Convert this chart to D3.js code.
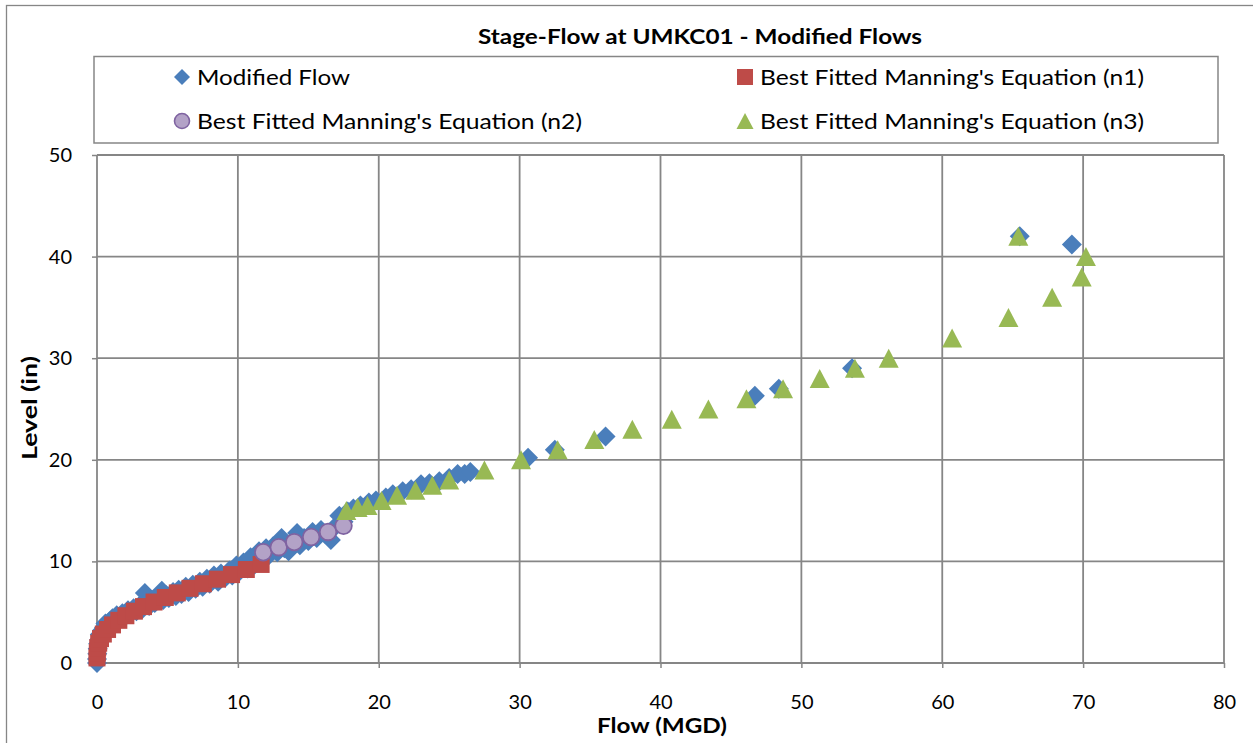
<!DOCTYPE html>
<html>
<head>
<meta charset="utf-8">
<script src="https://cdn.jsdelivr.net/npm/d3@7"></script>
<style>
  html, body { margin: 0; padding: 0; background: #fff; }
  svg { display: block; }
  text { font-family: Lato, "Open Sans", sans-serif; fill: #000; }
</style>
</head>
<body>
<svg id="chart" width="1253" height="743"></svg>
<script>
// ---- data ----
const modFlow = [0.0,0.0,0.02,0.05,0.08,0.15,0.2,0.35,0.5,0.6,0.8,0.9,1.1,1.2,1.4,1.6,1.8,2.0,2.2,2.4,2.6,2.8,3.0,3.2,3.4,3.5,3.7,3.9,4.1,4.3,4.6,4.7,4.9,5.1,5.4,5.6,5.8,6.0,6.3,6.5,6.8,7.0,7.3,7.5,7.8,8.0,8.3,8.6,8.8,9.1,9.4,9.6,9.9,10.1,10.4,10.7,10.9,11.2,11.5,11.7,12.0,12.2,12.5,12.8,13.1,13.3,13.6,13.9,14.2,14.4,14.7,15.0,15.3,15.6,15.9,16.2,16.6,16.9,17.2,17.5,17.8,18.2,18.7,19.3,19.8,20.5,21.0,21.7,22.3,23.0,23.6,24.3,25.0,25.6,26.1,26.5,30.6,32.5,36.1,46.7,48.4,53.6,65.5,69.2];
const modLevel = [0.0,0.4,0.9,1.4,1.9,2.3,2.8,3.2,3.5,3.9,3.6,4.1,4.4,3.9,4.7,4.4,4.9,4.6,5.2,4.9,5.4,5.1,5.6,5.3,6.9,6.0,5.6,6.2,5.9,6.5,7.1,6.2,6.7,6.4,7.0,6.6,7.2,6.8,7.5,7.0,7.7,7.3,8.0,7.5,8.3,7.8,8.6,8.0,8.8,8.4,9.1,8.6,9.6,9.0,9.9,9.3,10.4,9.7,11.0,10.1,11.3,10.6,11.5,10.9,12.3,11.3,11.0,12.0,12.8,11.6,12.3,12.0,12.9,12.3,13.1,12.7,12.1,13.4,14.5,13.9,14.9,15.2,15.5,15.8,16.0,16.3,16.6,16.9,17.1,17.6,17.7,17.9,18.2,18.6,18.6,18.8,20.2,21.0,22.3,26.3,27.0,29.0,42.0,41.2];

const n1Flow  = [0.0,0.02,0.05,0.12,0.25,0.45,0.75,1.1,1.55,2.05,2.65,3.3,4.05,4.85,5.7,6.6,7.55,8.55,9.55,10.6,11.65];
const n1Level = [0.5,1.0,1.5,1.95,2.4,2.85,3.3,3.75,4.2,4.65,5.1,5.55,6.0,6.45,6.9,7.35,7.8,8.25,8.7,9.2,9.7];

const n2Flow  = [11.8,12.9,14.0,15.2,16.4,17.5];
const n2Level = [10.9,11.4,11.9,12.4,12.9,13.5];

const n3Flow  = [17.7,18.5,19.2,20.2,21.3,22.6,23.8,25.0,27.5,30.1,32.7,35.3,38.0,40.8,43.4,46.1,48.7,51.3,53.8,56.2,60.7,64.7,67.8,69.9,70.2,65.4];
const n3Level = [15.0,15.3,15.5,16.0,16.5,17.0,17.5,18.0,19.0,20.0,21.0,22.0,23.0,24.0,25.0,26.0,27.0,28.0,29.0,30.0,32.0,34.0,36.0,38.0,40.0,42.0];

const xTicks = [0,10,20,30,40,50,60,70,80];
const yTicks = [0,10,20,30,40,50];

const seriesNames = ["Modified Flow","Best Fitted Manning's Equation (n1)","Best Fitted Manning's Equation (n2)","Best Fitted Manning's Equation (n3)"];
const titleText = "Stage-Flow at UMKC01 - Modified Flows";
const xTitle = "Flow (MGD)";
const yTitle = "Level (in)";

// ---- layout ----
const svg = d3.select("#chart");
const L = 97, R = 1224, T = 155, B = 663;
const x = d3.scaleLinear().domain([0,80]).range([L,R]);
const y = d3.scaleLinear().domain([0,50]).range([B,T]);

const C = { blue:"#4A7EBB", red:"#BE4B48", purpleFill:"#B3A2C7", purpleStroke:"#7F63A1", green:"#98B954", grid:"#868686" };

// outer chart border
svg.append("rect").attr("x",6.5).attr("y",5.5).attr("width",1400).attr("height",800)
  .attr("fill","none").attr("stroke","#868686").attr("stroke-width",1.3);

// title
svg.append("text").attr("x",700).attr("y",44).attr("text-anchor","middle")
  .attr("font-size",20).attr("font-weight","bold")
  .attr("textLength",444).attr("lengthAdjust","spacingAndGlyphs").text(titleText);

// gridlines + axes
const gx = svg.append("g").attr("transform",`translate(0,${B})`)
  .call(d3.axisBottom(x).tickValues(xTicks).tickSize(5).tickPadding(27).tickFormat(d3.format("d")));
const gy = svg.append("g").attr("transform",`translate(${L},0)`)
  .call(d3.axisLeft(y).tickValues(yTicks).tickSize(5).tickPadding(20).tickFormat(d3.format("d")));
[gx,gy].forEach(g=>{
  g.select(".domain").remove();
  g.selectAll(".tick line").attr("stroke",C.grid).attr("stroke-width",1.5);
  g.selectAll(".tick text").attr("font-size",20).attr("font-family","Lato").attr("fill","#000");
});
svg.append("g").selectAll("line").data(xTicks).join("line")
  .attr("x1",d=>x(d)).attr("x2",d=>x(d)).attr("y1",T).attr("y2",B)
  .attr("stroke",C.grid).attr("stroke-width",1.8);
svg.append("g").selectAll("line").data(yTicks).join("line")
  .attr("x1",L).attr("x2",R).attr("y1",d=>y(d)).attr("y2",d=>y(d))
  .attr("stroke",C.grid).attr("stroke-width",1.8);

// axis titles
svg.append("text").attr("x",662).attr("y",733).attr("text-anchor","middle")
  .attr("font-size",21).attr("font-weight","bold")
  .attr("textLength",130).attr("lengthAdjust","spacingAndGlyphs").text(xTitle);
svg.append("text").attr("transform","translate(37,408) rotate(-90)").attr("text-anchor","middle")
  .attr("font-size",21).attr("font-weight","bold")
  .attr("textLength",104).attr("lengthAdjust","spacingAndGlyphs").text(yTitle);

// marker shapes
function diamond(s){ const h=s/2; return `M0,${-h}L${h},0L0,${h}L${-h},0Z`; }
function square(s){ const h=s/2; return `M${-h},${-h}H${h}V${h}H${-h}Z`; }
function triangle(w,hgt){ const a=w/2, b=hgt/2; return `M0,${-b}L${a},${b}L${-a},${b}Z`; }

const plot = svg.append("g");
const zip = (a,b)=>a.map((v,i)=>[v,b[i]]);

plot.append("g").selectAll("path").data(zip(modFlow,modLevel)).join("path")
  .attr("transform",d=>`translate(${x(d[0])},${y(d[1])})`).attr("d",diamond(20)).attr("fill",C.blue);
plot.append("g").selectAll("path").data(zip(n1Flow,n1Level)).join("path")
  .attr("transform",d=>`translate(${x(d[0])},${y(d[1])})`).attr("d",square(17)).attr("fill",C.red);
plot.append("g").selectAll("circle").data(zip(n2Flow,n2Level)).join("circle")
  .attr("cx",d=>x(d[0])).attr("cy",d=>y(d[1])).attr("r",8.3)
  .attr("fill",C.purpleFill).attr("stroke",C.purpleStroke).attr("stroke-width",1.8);
plot.append("g").selectAll("path").data(zip(n3Flow,n3Level)).join("path")
  .attr("transform",d=>`translate(${x(d[0])},${y(d[1])})`).attr("d",triangle(20,19)).attr("fill",C.green);

// legend
const lg = svg.append("g");
lg.append("rect").attr("x",94).attr("y",56.5).attr("width",1124).attr("height",86.5)
  .attr("fill","#fff").attr("stroke","#868686").attr("stroke-width",1.5);
const legendItems = [
  {name:seriesNames[0], mx:182, ty:77, kind:"d", w:153},
  {name:seriesNames[1], mx:745, ty:77, kind:"s", w:384},
  {name:seriesNames[2], mx:182, ty:121, kind:"c", w:385},
  {name:seriesNames[3], mx:745, ty:121, kind:"t", w:384}
];
legendItems.forEach(it=>{
  const g = lg.append("g").attr("transform",`translate(${it.mx},${it.ty})`);
  if(it.kind==="d") g.append("path").attr("d",diamond(16)).attr("fill",C.blue);
  if(it.kind==="s") g.append("path").attr("d",square(16)).attr("fill",C.red);
  if(it.kind==="c") g.append("circle").attr("r",7.5).attr("fill",C.purpleFill).attr("stroke",C.purpleStroke).attr("stroke-width",1.6);
  if(it.kind==="t") g.append("path").attr("d",triangle(17,16)).attr("fill",C.green);
  g.append("text").attr("x",15).attr("y",8).attr("font-size",21)
    .attr("textLength",it.w).attr("lengthAdjust","spacingAndGlyphs").text(it.name);
});
</script>
</body>
</html>
